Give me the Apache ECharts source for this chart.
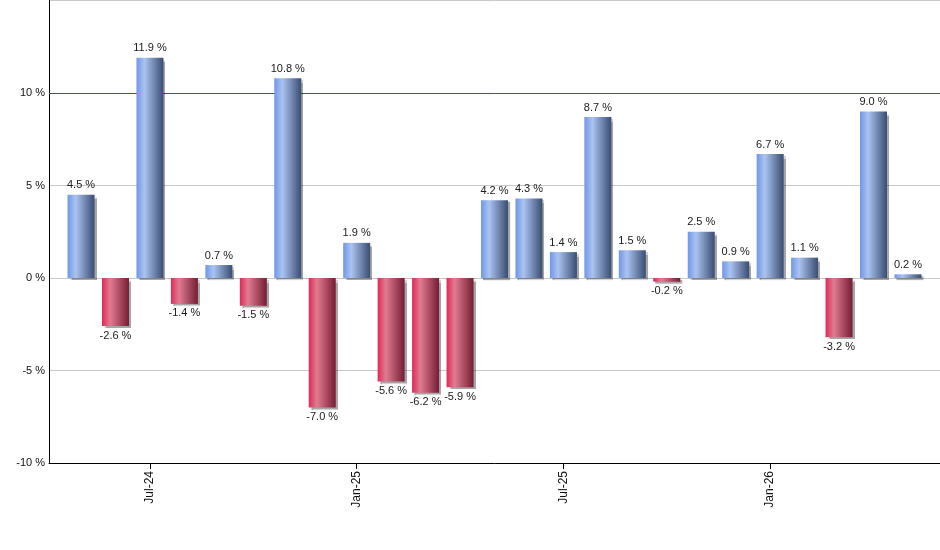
<!DOCTYPE html>
<html>
<head>
  <meta charset="UTF-8">
  <title>Monthly returns</title>
  <script src="https://cdn.jsdelivr.net/npm/echarts@6/dist/echarts.min.js"></script>
  <style>
    html, body { margin: 0; padding: 0; background: #fff; }
    #main { width: 940px; height: 550px; }
  </style>
</head>
<body>
  <div id="main"></div>
  <script>
    const months = ['May-24', 'Jun-24', 'Jul-24', 'Aug-24', 'Sep-24', 'Oct-24', 'Nov-24', 'Dec-24',
      'Jan-25', 'Feb-25', 'Mar-25', 'Apr-25', 'May-25', 'Jun-25', 'Jul-25', 'Aug-25', 'Sep-25',
      'Oct-25', 'Nov-25', 'Dec-25', 'Jan-26', 'Feb-26', 'Mar-26', 'Apr-26', 'May-26'];
    const returns = [4.5, -2.6, 11.9, -1.4, 0.7, -1.5, 10.8, -7.0, 1.9, -5.6, -6.2, -5.9,
      4.2, 4.3, 1.4, 8.7, 1.5, -0.2, 2.5, 0.9, 6.7, 1.1, -3.2, 9.0, 0.2];
    const labelledMonths = [2, 8, 14, 20];   // Jul / Jan
    const highlightLevel = 10;

    const font = 'Liberation Sans, Arial, sans-serif';

    const blueFill = new echarts.graphic.LinearGradient(0, 0, 1, 0, [
      { offset: 0, color: '#7096e8' },
      { offset: 0.3, color: '#aac3f0' },
      { offset: 1, color: '#3a4d72' }
    ]);
    const redFill = new echarts.graphic.LinearGradient(0, 0, 1, 0, [
      { offset: 0, color: '#de2a55' },
      { offset: 0.3, color: '#e07c92' },
      { offset: 1, color: '#761c33' }
    ]);

    const chart = echarts.init(document.getElementById('main'));

    chart.setOption({
      animation: false,
      grid: { left: 49, right: 0, top: 0.5, bottom: 87 },
      xAxis: {
        type: 'value',
        min: -0.93,
        max: 24.93,
        splitLine: { show: false },
        axisLine: { show: true, onZero: false, lineStyle: { color: '#000', width: 1 } },
        axisTick: { show: true, customValues: labelledMonths, length: 6, lineStyle: { color: '#000' } },
        axisLabel: {
          customValues: labelledMonths,
          rotate: 90,
          margin: 8,
          color: '#111',
          fontFamily: font,
          fontSize: 12,
          formatter: v => months[Math.round(v)]
        }
      },
      yAxis: {
        type: 'value',
        min: -10,
        max: 15,
        interval: 5,
        axisLine: { show: true, onZero: false, lineStyle: { color: '#000', width: 1 } },
        axisTick: { show: false },
        axisLabel: {
          showMaxLabel: false,
          margin: 4,
          color: '#111',
          fontFamily: font,
          fontSize: 11,
          formatter: v => v + ' %'
        },
        splitLine: { show: true, lineStyle: { color: '#c8c8c8', width: 1 } }
      },
      series: [{
        type: 'bar',
        barWidth: 27,
        data: returns.map((v, i) => ({
          value: [i, v],
          itemStyle: { color: v >= 0 ? blueFill : redFill },
          label: { position: v >= 0 ? 'top' : 'bottom' }
        })),
        itemStyle: {
          shadowColor: 'rgba(0,0,0,0.35)',
          shadowOffsetX: 2,
          shadowOffsetY: 2,
          shadowBlur: 1
        },
        label: {
          show: true,
          distance: 4,
          color: '#1a1a1a',
          fontFamily: font,
          fontSize: 11,
          formatter: p => p.value[1].toFixed(1) + ' %'
        },
        markLine: {
          silent: true,
          symbol: 'none',
          z: 1,
          label: { show: false },
          lineStyle: { color: '#1a7a1a', type: 'solid', width: 1 },
          data: [{ yAxis: highlightLevel }]
        }
      }]
    });
  </script>
</body>
</html>
